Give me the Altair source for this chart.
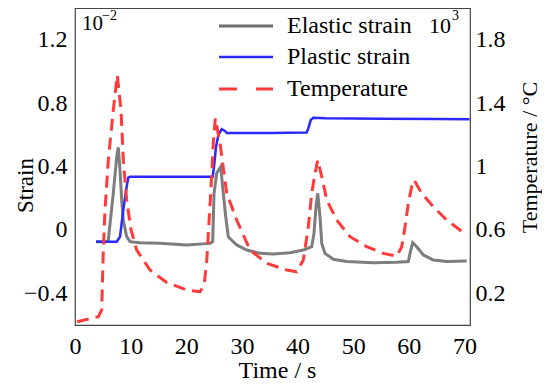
import altair as alt
import pandas as pd

# ---------------- data ----------------
elastic_t = [3.77, 5.7, 5.99, 6.88, 7.5, 7.78, 8.09, 8.39, 8.68, 9.29, 9.89, 11.68, 15.28, 20.08,
             24.27, 24.75, 24.99, 25.47, 26.19, 26.66, 27.09, 27.56, 29.07, 30.86, 33.26, 35.65,
             38.65, 41.04, 42.55, 42.96, 43.32, 43.63, 44.04, 44.35, 44.94, 46.43, 48.84, 53.62,
             57.83, 59.91, 60.35, 60.7, 61.42, 62.61, 64.41, 66.82, 70.41]
elastic_v = [-0.074, -0.074, -0.064, 0.231, 0.462, 0.521, 0.378, 0.189, 0.062, -0.043, -0.074,
             -0.081, -0.085, -0.095, -0.085, -0.074, 0.231, 0.357, 0.399, 0.231, 0.083, -0.043,
             -0.095, -0.127, -0.148, -0.152, -0.144, -0.127, -0.106, -0.021, 0.146, 0.231, 0.083,
             -0.085, -0.148, -0.185, -0.2, -0.207, -0.204, -0.2, -0.127, -0.081, -0.106, -0.158,
             -0.19, -0.2, -0.196]

plastic_t = [3.77, 7.5, 8.09, 8.68, 9.29, 9.58, 9.9, 24.75, 24.99, 25.35, 25.77, 26.37, 26.96,
             27.27, 35.0, 41.65, 41.94, 42.37, 42.84, 45.0, 55.0, 65.0, 70.9]
plastic_v = [-0.074, -0.074, -0.043, 0.126, 0.273, 0.33, 0.336, 0.336, 0.399, 0.525, 0.599,
             0.635, 0.624, 0.612, 0.612, 0.615, 0.641, 0.693, 0.708, 0.705, 0.701, 0.699, 0.698]

temp_t = [0.36, 4.19, 4.8, 5.09, 5.39, 5.99, 6.88, 7.6, 8.27, 8.68, 9.29, 10.07, 11.09, 13.48,
          16.48, 20.08, 22.47, 23.2, 23.67, 24.39, 24.86, 25.22, 26.07, 27.27, 29.07, 31.46,
          34.46, 38.06, 39.85, 41.04, 41.94, 42.55, 43.14, 43.63, 44.35, 45.25, 47.04, 49.43,
          52.44, 55.42, 57.83, 58.73, 59.32, 59.91, 60.52, 60.94, 62.32, 64.41, 66.82, 70.41]
temp_v = [0.021, 0.052, 0.095, 0.473, 0.726, 1.041, 1.356, 1.577, 1.356, 1.041, 0.789, 0.6,
          0.473, 0.347, 0.268, 0.221, 0.21, 0.252, 0.397, 0.831, 1.146, 1.304, 1.146, 0.831,
          0.662, 0.473, 0.389, 0.347, 0.336, 0.41, 0.62, 0.831, 0.957, 1.041, 0.936, 0.789,
          0.662, 0.557, 0.494, 0.452, 0.435, 0.494, 0.62, 0.768, 0.873, 0.915, 0.831, 0.746,
          0.662, 0.568]

x_ticks = [0, 10, 20, 30, 40, 50, 60, 70]
strain_ticks = [-0.4, 0, 0.4, 0.8, 1.2]
temp_ticks = [0.2, 0.6, 1.0, 1.4, 1.8]
legend_names = ["Elastic strain", "Plastic strain", "Temperature"]
legend_colors = ["#6f6f6f", "#2a2aff", "#ff3a3a"]

FONT = "Liberation Serif"

el = pd.DataFrame({"t": elastic_t, "v": elastic_v})
pl = pd.DataFrame({"t": plastic_t, "v": plastic_v})
tp = pd.DataFrame({"t": temp_t, "v": temp_v})
one = pd.DataFrame({"a": [0]})

xscale = alt.Scale(domain=[0, 71], nice=False, zero=False)
xaxis = alt.Axis(values=x_ticks, title="Time / s", ticks=False, domain=False, grid=False,
                 labelFontSize=24, titleFontSize=24, labelPadding=9, labelFont=FONT,
                 titleFont=FONT, titleFontWeight="normal", labelColor="black",
                 titleColor="black", titleY=45, titleX=202, titleBaseline="middle",
                 labelFlush=False)

left_scale = alt.Scale(domain=[-0.6, 1.4], nice=False, zero=False)
left_axis = alt.Axis(values=strain_ticks, title="Strain", format="~g", ticks=False,
                     domain=False, grid=False, labelFontSize=24, titleFontSize=23,
                     labelPadding=8, labelFont=FONT, titleFont=FONT,
                     titleFontWeight="normal", labelColor="black", titleColor="black",
                     titleAngle=270, titleX=-50, titleY=177, titleBaseline="middle",
                     titleAlign="center", labelFlush=False)

right_scale = alt.Scale(domain=[0, 2.0], nice=False, zero=False)
right_axis = alt.Axis(values=temp_ticks, title="Temperature / °C", format="~g", ticks=False,
                      domain=False, grid=False, labelFontSize=24, titleFontSize=22,
                      labelPadding=5, labelFont=FONT, titleFont=FONT,
                      titleFontWeight="normal", labelColor="black", titleColor="black",
                      titleAngle=270, titleX=59, titleY=149, titleBaseline="middle",
                      titleAlign="center", orient="right", labelFlush=False)

elastic_line = alt.Chart(el).mark_line(color=legend_colors[0], strokeWidth=3, opacity=0.9).encode(
    x=alt.X("t:Q", scale=xscale, axis=xaxis),
    y=alt.Y("v:Q", scale=left_scale, axis=left_axis),
)
plastic_line = alt.Chart(pl).mark_line(color=legend_colors[1], strokeWidth=2.5).encode(
    x=alt.X("t:Q", scale=xscale),
    y=alt.Y("v:Q", scale=left_scale),
)
left_layer = alt.layer(elastic_line, plastic_line)

temp_line = alt.Chart(tp).mark_line(color=legend_colors[2], strokeWidth=3,
                                    strokeDash=[12, 7]).encode(
    x=alt.X("t:Q", scale=xscale),
    y=alt.Y("v:Q", scale=right_scale, axis=right_axis),
)

# ---------- legend and exponent annotations ----------
deco = []
row_y = [18, 49, 81]
dashes = [None, None, [18, 19]]
for name, col, yy, dsh in zip(legend_names, legend_colors, row_y, dashes):
    kw = dict(color=col, strokeWidth=3 if name != "Plastic strain" else 2.5)
    if dsh:
        kw["strokeDash"] = dsh
    deco.append(alt.Chart(one).mark_rule(**kw).encode(
        x=alt.value(144), x2=alt.value(198), y=alt.value(yy)))
    deco.append(alt.Chart(one).mark_text(text=name, font=FONT, fontSize=24, align="left",
                                         baseline="middle", color="black").encode(
        x=alt.value(212), y=alt.value(yy)))

deco.append(alt.Chart(one).mark_text(text="10", font=FONT, fontSize=21, align="left",
                                     baseline="middle", color="black").encode(
    x=alt.value(7), y=alt.value(16)))
deco.append(alt.Chart(one).mark_text(text="−2", font=FONT, fontSize=14, align="left",
                                     baseline="middle", color="black").encode(
    x=alt.value(27), y=alt.value(8)))
deco.append(alt.Chart(one).mark_text(text="10", font=FONT, fontSize=22, align="left",
                                     baseline="middle", color="black").encode(
    x=alt.value(354), y=alt.value(18)))
deco.append(alt.Chart(one).mark_text(text="3", font=FONT, fontSize=14, align="left",
                                     baseline="middle", color="black").encode(
    x=alt.value(377), y=alt.value(8)))

chart = alt.layer(left_layer, temp_line, *deco).resolve_scale(y="independent").properties(
    width=395, height=317,
    autosize=alt.AutoSizeParams(type="none"),
    padding={"left": 67, "top": 0, "right": 72, "bottom": 60},
).configure_view(stroke="#444444", strokeWidth=1.2)

chart.save("out.html", embed_options={"renderer": "svg", "actions": False})
